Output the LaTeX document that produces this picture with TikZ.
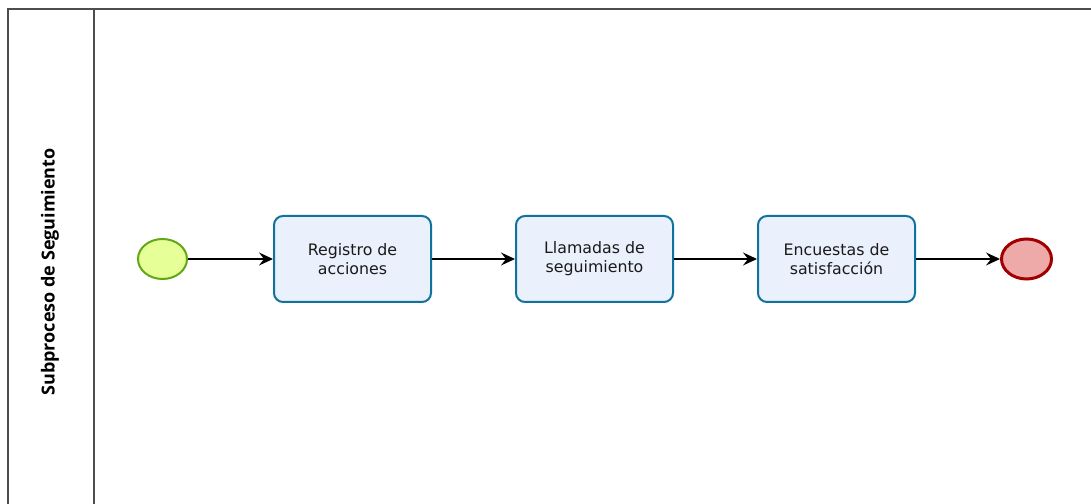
\documentclass[tikz,border=0pt]{standalone}
\usepackage{fontspec}
\setmainfont{DejaVu Sans}
\newfontfamily\lanefont{Open Sans}
\usetikzlibrary{arrows.meta,shapes.geometric}
\definecolor{poolline}{HTML}{4D4D4D}
\definecolor{startfill}{HTML}{E6FF97}
\definecolor{startline}{HTML}{62A716}
\definecolor{taskfill}{HTML}{EAF0FC}
\definecolor{taskline}{HTML}{10739E}
\definecolor{endfill}{HTML}{EEA9A9}
\definecolor{endline}{HTML}{A20000}
\definecolor{txt}{HTML}{1A1A1A}
\begin{document}
\begin{tikzpicture}[x=1bp,y=-1bp,
  pool/.style={draw=poolline,line width=2bp},
  startev/.style={ellipse,draw=startline,fill=startfill,line width=2bp,minimum width=49bp,minimum height=40bp,inner sep=0pt},
  endev/.style={ellipse,draw=endline,fill=endfill,line width=3bp,minimum width=50bp,minimum height=40bp,inner sep=0pt},
  task/.style={draw=taskline,fill=taskfill,line width=2bp,rounded corners=9bp,minimum width=157bp,minimum height=86bp,inner sep=2bp,align=center,text=txt,font=\fontsize{15.8bp}{19bp}\selectfont},
  flow/.style={draw=black,line width=1.3bp,-{Stealth[length=14bp,width=13bp,inset=5bp]}},
  lanelabel/.style={rotate=90,font=\lanefont\bfseries\fontsize{18bp}{20bp}\selectfont,text=black}
]
\useasboundingbox (0,0) rectangle (1091,504);
\fill[white] (0,0) rectangle (1091,504);
\draw[pool] (7.5,504) -- (7.5,9) -- (1091,9);
\draw[pool] (94,9) -- (94,504);
\node[lanelabel] (lane) at (50,272) {Subproceso de Seguimiento};
\node[startev] (s) at (162.5,259) {};
\node[task] (t1) at (352.5,259) {Registro de\\acciones};
\node[task] (t2) at (594.5,259) {Llamadas de\\seguimiento};
\node[task] (t3) at (836.5,259) {Encuestas de\\satisfacción};
\node[endev] (e) at (1026.5,259) {};
\draw[flow] (s) -- (t1);
\draw[flow] (t1) -- (t2);
\draw[flow] (t2) -- (t3);
\draw[flow] (t3) -- (e);
\end{tikzpicture}
\end{document}
